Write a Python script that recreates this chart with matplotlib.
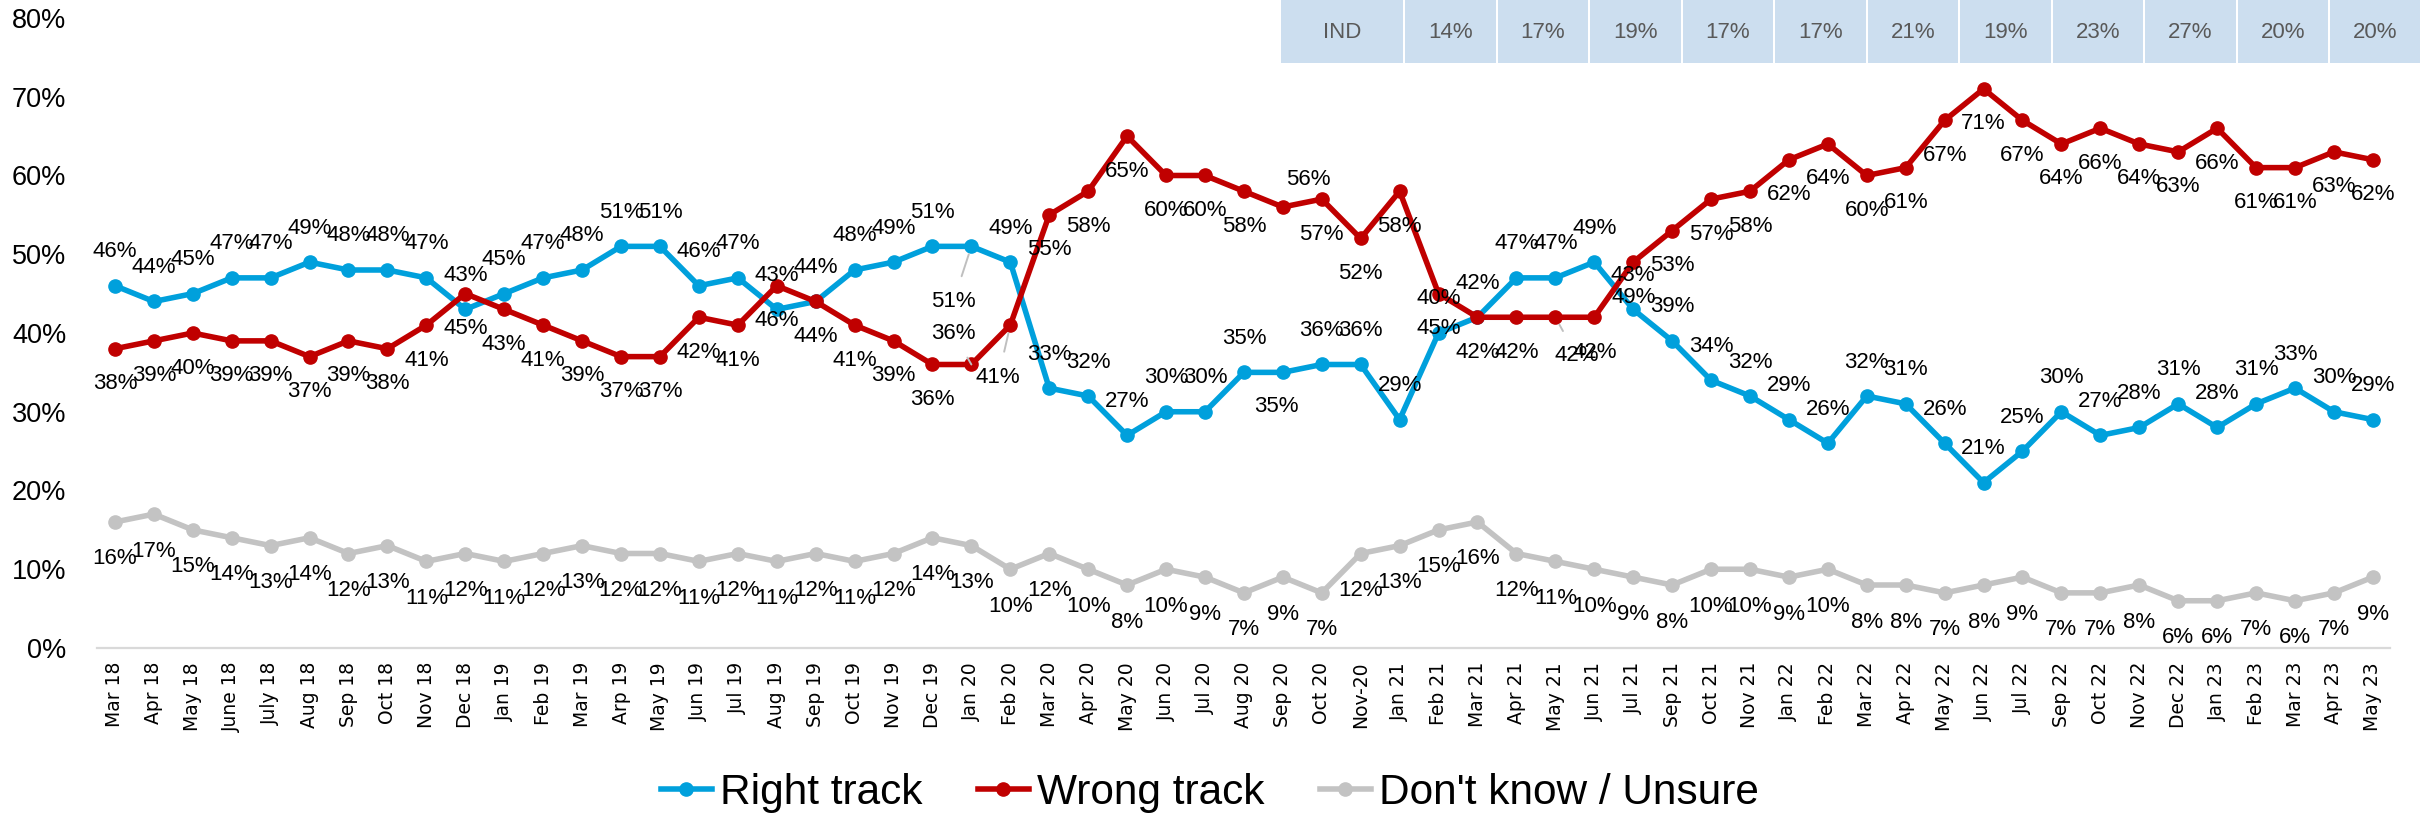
import matplotlib
matplotlib.use("Agg")
import matplotlib.pyplot as plt
from matplotlib.lines import Line2D
from matplotlib.patches import Rectangle

# survey months (tick labels as in the source, typo included)
months = ['Mar 18', 'Apr 18', 'May 18', 'June 18', 'July 18', 'Aug 18', 'Sep 18', 'Oct 18',
          'Nov 18', 'Dec 18', 'Jan 19', 'Feb 19', 'Mar 19', 'Arp 19', 'May 19', 'Jun 19',
          'Jul 19', 'Aug 19', 'Sep 19', 'Oct 19', 'Nov 19', 'Dec 19', 'Jan 20', 'Feb 20',
          'Mar 20', 'Apr 20', 'May 20', 'Jun 20', 'Jul 20', 'Aug 20', 'Sep 20', 'Oct 20',
          'Nov-20', 'Jan 21', 'Feb 21', 'Mar 21', 'Apr 21', 'May 21', 'Jun 21', 'Jul 21',
          'Sep 21', 'Oct 21', 'Nov 21', 'Jan 22', 'Feb 22', 'Mar 22', 'Apr 22', 'May 22',
          'Jun 22', 'Jul 22', 'Sep 22', 'Oct 22', 'Nov 22', 'Dec 22', 'Jan 23', 'Feb 23',
          'Mar 23', 'Apr 23', 'May 23']

right_track = [46, 44, 45, 47, 47, 49, 48, 48, 47, 43, 45, 47, 48, 51, 51, 46, 47, 43, 44, 48,
               49, 51, 51, 49, 33, 32, 27, 30, 30, 35, 35, 36, 36, 29, 40, 42, 47, 47, 49, 43,
               39, 34, 32, 29, 26, 32, 31, 26, 21, 25, 30, 27, 28, 31, 28, 31, 33, 30, 29]

wrong_track = [38, 39, 40, 39, 39, 37, 39, 38, 41, 45, 43, 41, 39, 37, 37, 42, 41, 46, 44, 41,
               39, 36, 36, 41, 55, 58, 65, 60, 60, 58, 56, 57, 52, 58, 45, 42, 42, 42, 42, 49,
               53, 57, 58, 62, 64, 60, 61, 67, 71, 67, 64, 66, 64, 63, 66, 61, 61, 63, 62]

dont_know = [16, 17, 15, 14, 13, 14, 12, 13, 11, 12, 11, 12, 13, 12, 12, 11, 12, 11, 12, 11,
             12, 14, 13, 10, 12, 10, 8, 10, 9, 7, 9, 7, 12, 13, 15, 16, 12, 11, 10, 9,
             8, 10, 10, 9, 10, 8, 8, 7, 8, 9, 7, 7, 8, 6, 6, 7, 6, 7, 9]

ind_row = ['IND', '14%', '17%', '19%', '17%', '17%', '21%', '19%', '23%', '27%', '20%', '20%']

BLUE = '#00A0DC'
RED = '#C00000'
GREY = '#C3C3C3'
FONT = ['Liberation Sans', 'DejaVu Sans']

W, H = 2420, 813
fig = plt.figure(figsize=(W / 100, H / 100), dpi=100)
ax = fig.add_axes([97 / W, (H - 648) / H, (2390 - 97) / W, (648 - 18) / H])

x = list(range(len(months)))
ax.plot(x, dont_know, color=GREY, lw=4, marker='o', ms=9.5, zorder=2)
ax.plot(x, right_track, color=BLUE, lw=4, marker='o', ms=9.5, zorder=3)
ax.plot(x, wrong_track, color=RED, lw=4, marker='o', ms=9.5, zorder=4)


def px(v):
    return v * 0.72


def put_labels(vals, dy, special):
    for i, v in enumerate(vals):
        dx_p, dy_p, leader = special.get(i, (0, dy, False))
        arrow = None
        if leader:
            arrow = dict(arrowstyle='-', color='#BFBFBF', lw=1.4, shrinkA=9, shrinkB=6)
        ax.annotate(f'{v}%', (i, v), xytext=(px(dx_p), px(dy_p)), textcoords='offset points',
                    ha='center', va='center', fontsize=16, family=FONT, color='black',
                    arrowprops=arrow, zorder=6)


# label offsets in pixels (dx, dy up), for the labels that were moved by hand
put_labels(right_track, 34, {22: (-18, -55, True), 30: (-6, -34, False)})
put_labels(wrong_track, -35, {22: (-18, 31, True), 23: (-12, -52, True),
                              30: (25, 27, False), 37: (21, -38, True)})
put_labels(dont_know, -37, {})

ax.set_xlim(-0.46, 58.44)
ax.set_ylim(0, 80)
ax.set_yticks(range(0, 81, 10))
ax.set_yticklabels([f'{v}%' for v in range(0, 81, 10)], fontsize=19.5, family=FONT)
ax.set_xticks(x)
ax.set_xticklabels(months, rotation=90, fontsize=13.5, family='DejaVu Sans')
ax.tick_params(axis='y', length=0, pad=22)
ax.tick_params(axis='x', length=0, pad=10)
for side in ['top', 'right', 'left']:
    ax.spines[side].set_visible(False)
ax.spines['bottom'].set_color('#D9D9D9')
ax.spines['bottom'].set_linewidth(1.6)

# IND header row
cells = [(1281, 122)] + [(1405 + k * 92.5, 90.5) for k in range(11)]
for (x0, w), txt in zip(cells, ind_row):
    fig.add_artist(Rectangle((x0 / W, 1 - 63 / H), w / W, 63 / H, transform=fig.transFigure,
                             facecolor='#CCDEEF', edgecolor='none'))
    fig.text((x0 + w / 2) / W, 1 - 33 / H, txt, ha='center', va='center', fontsize=16,
             family=FONT, color='#595959')

handles = [Line2D([], [], color=c, lw=4, marker='o', ms=9.5) for c in (BLUE, RED, GREY)]
fig.legend(handles, ['Right track', 'Wrong track', "Don't know / Unsure"], loc='center',
           bbox_to_anchor=(1210 / W, 1 - 793 / H), ncol=3, frameon=False,
           prop={'family': FONT, 'size': 30.5}, handlelength=1.2, handletextpad=0.2,
           columnspacing=1.3)

fig.savefig('out.png', dpi=100)
